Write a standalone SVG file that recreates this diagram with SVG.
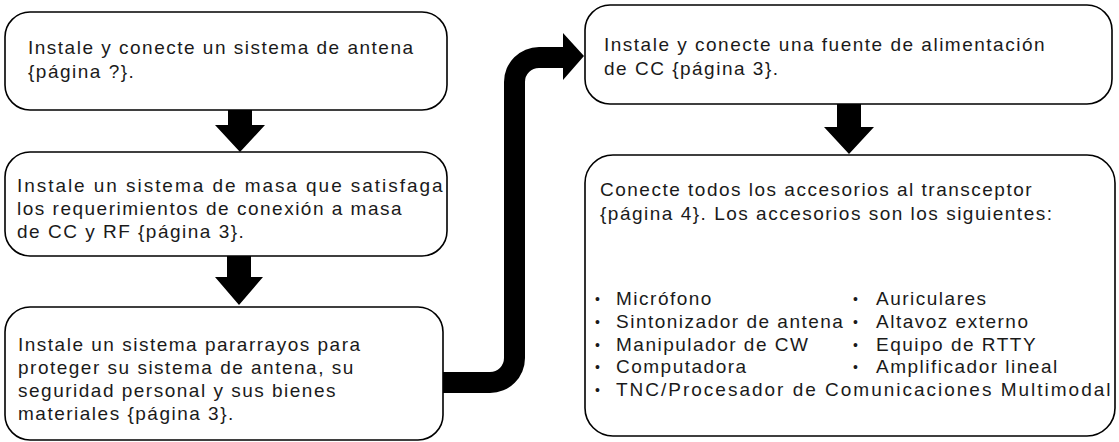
<svg xmlns="http://www.w3.org/2000/svg" width="1119" height="442" viewBox="0 0 1119 442">
<style>
.box{fill:#fff;stroke:#000;stroke-width:1.6}
.t{font-family:"Liberation Sans",Arial,sans-serif;font-size:19px;letter-spacing:1.5px;fill:#1a1a1a}
.b{font-family:"Liberation Sans",Arial,sans-serif;font-size:14px;fill:#1a1a1a}
.arr{fill:#000;stroke:none}
</style>
<rect width="1119" height="442" fill="#fff"/>
<g id="connectors">
<path class="arr" d="M228,110 H252 V125 H265 L240,152 L215,125 H228 Z"/>
<path class="arr" d="M227,256 H251 V277 H263 L239,305 L215,277 H227 Z"/>
<path class="arr" d="M837,104 H861 V127 H874 L849,154 L824,127 H837 Z"/>
<path class="arr" d="M443,372 L490,372 A14,14 0 0 0 504,358 L504,82 A35,35 0 0 1 539,47 L563,47 L563,33 L584,56 L563,80 L563,68 L539,68 A14,14 0 0 0 525,82 L525,358 A35,35 0 0 1 490,393 L443,393 Z"/>
</g>
<g id="box1">
<rect class="box" x="5" y="12" width="442" height="98" rx="25"/>
<text class="t" x="28" y="54">Instale y conecte un sistema de antena</text>
<text class="t" x="28" y="78">{página ?}.</text>
</g>
<g id="box2">
<rect class="box" x="5" y="152" width="442" height="104" rx="25"/>
<text class="t" x="17" y="192" textLength="427" lengthAdjust="spacing">Instale un sistema de masa que satisfaga</text>
<text class="t" x="17" y="215">los requerimientos de conexión a masa</text>
<text class="t" x="17" y="238">de CC y RF {página 3}.</text>
</g>
<g id="box3">
<rect class="box" x="5" y="307" width="438" height="133" rx="25"/>
<text class="t" x="18" y="351">Instale un sistema pararrayos para</text>
<text class="t" x="18" y="374">proteger su sistema de antena, su</text>
<text class="t" x="18" y="397">seguridad personal y sus bienes</text>
<text class="t" x="18" y="420">materiales {página 3}.</text>
</g>
<g id="box4">
<rect class="box" x="585" y="5" width="527" height="99" rx="25"/>
<text class="t" x="604" y="51">Instale y conecte una fuente de alimentación</text>
<text class="t" x="604" y="75">de CC {página 3}.</text>
</g>
<g id="box5">
<rect class="box" x="585" y="155" width="530" height="281" rx="28"/>
<text class="t" x="600" y="196">Conecte todos los accesorios al transceptor</text>
<text class="t" x="600" y="220">{página 4}. Los accesorios son los siguientes:</text>
<text class="b" x="595" y="304">•</text><text class="t" x="616" y="305">Micrófono</text>
<text class="b" x="595" y="327">•</text><text class="t" x="616" y="328">Sintonizador de antena</text>
<text class="b" x="595" y="350">•</text><text class="t" x="616" y="351">Manipulador de CW</text>
<text class="b" x="595" y="372">•</text><text class="t" x="616" y="373">Computadora</text>
<text class="b" x="595" y="395">•</text><text class="t" x="616" y="396" textLength="496" lengthAdjust="spacing">TNC/Procesador de Comunicaciones Multimodal</text>
<text class="b" x="853" y="304">•</text><text class="t" x="876" y="305">Auriculares</text>
<text class="b" x="853" y="327">•</text><text class="t" x="876" y="328">Altavoz externo</text>
<text class="b" x="853" y="350">•</text><text class="t" x="876" y="351">Equipo de RTTY</text>
<text class="b" x="853" y="372">•</text><text class="t" x="876" y="373">Amplificador lineal</text>
</g>
</svg>
